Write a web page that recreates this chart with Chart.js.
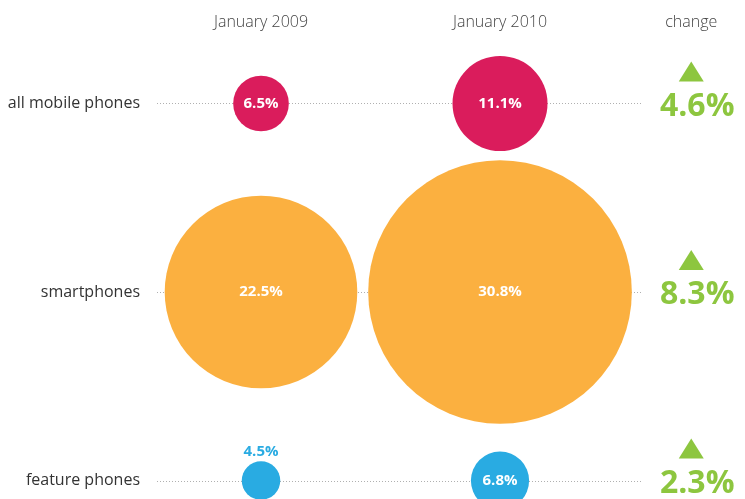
<!DOCTYPE html>
<html>
<head>
<meta charset="utf-8">
<script src="https://cdn.jsdelivr.net/npm/chart.js@4/dist/chart.umd.min.js"></script>
<style>
  html, body { margin: 0; padding: 0; background: #ffffff; }
  #wrap { position: relative; width: 745px; height: 499px; }
</style>
</head>
<body>
<div id="wrap"><canvas id="c"></canvas></div>
<script>
// ---- data ----
const categories = ['all mobile phones', 'smartphones', 'feature phones'];
const periods = ['January 2009', 'January 2010'];
const values2009 = [6.5, 22.5, 4.5];
const values2010 = [11.1, 30.8, 6.8];
const changes = [4.6, 8.3, 2.3];
const changeHeader = 'change';
const bubbleColors = ['#da1c5c', '#fbb040', '#29abe2'];

// ---- style / layout constants ----
const RADIUS_PER_UNIT = 4.28;
const CHANGE_X = 2.8;
const GREEN = '#8dc63f';
const FONT = '"Open Sans", "DejaVu Sans", sans-serif';

function makePoints(vals, xIndex) {
  return vals.map((v, i) => ({ x: xIndex + 1, y: i, r: v * RADIUS_PER_UNIT, v: v }));
}

const decor = {
  id: 'decor',
  beforeDatasetsDraw(chart) {
    const { ctx, scales: { x, y } } = chart;
    ctx.save();
    ctx.strokeStyle = '#b0b0b0';
    ctx.lineWidth = 1;
    ctx.setLineDash([1, 2]);
    categories.forEach((c, i) => {
      const py = Math.round(y.getPixelForValue(i)) + 0.5;
      ctx.beginPath();
      ctx.moveTo(157, py);
      ctx.lineTo(642, py);
      ctx.stroke();
    });
    ctx.restore();
  },
  afterDatasetsDraw(chart) {
    const { ctx, scales: { x, y } } = chart;
    ctx.save();
    // headers
    ctx.fillStyle = '#444';
    ctx.font = '300 16px ' + FONT;
    ctx.textAlign = 'center';
    ctx.textBaseline = 'middle';
    periods.forEach((p, j) => ctx.fillText(p, x.getPixelForValue(j + 1), 22));
    ctx.fillText(changeHeader, x.getPixelForValue(CHANGE_X), 22);
    // row labels
    ctx.fillStyle = '#333';
    ctx.font = '16px ' + FONT;
    ctx.textAlign = 'right';
    categories.forEach((c, i) => ctx.fillText(c, 140, y.getPixelForValue(i)));
    // bubble labels
    chart.data.datasets.forEach((ds, di) => {
      const meta = chart.getDatasetMeta(di);
      meta.data.forEach((el, i) => {
        const d = ds.data[i];
        const txt = d.v.toFixed(1) + '%';
        ctx.textAlign = 'center';
        ctx.font = 'bold 15px ' + FONT;
        if (d.r < 24) {
          ctx.fillStyle = bubbleColors[i];
          ctx.fillText(txt, el.x, el.y - d.r - 10);
        } else {
          ctx.fillStyle = '#ffffff';
          ctx.fillText(txt, el.x, el.y);
        }
      });
    });
    // change column
    const cx = x.getPixelForValue(CHANGE_X);
    changes.forEach((v, i) => {
      const py = y.getPixelForValue(i);
      ctx.fillStyle = GREEN;
      ctx.beginPath();
      ctx.moveTo(cx, py - 42);
      ctx.lineTo(cx + 12.5, py - 22);
      ctx.lineTo(cx - 12.5, py - 22);
      ctx.closePath();
      ctx.fill();
      ctx.font = 'bold 32px ' + FONT;
      ctx.textAlign = 'center';
      ctx.fillText(v.toFixed(1) + '%', cx + 6, py + 3);
    });
    ctx.restore();
  }
};

new Chart(document.getElementById('c'), {
  type: 'bubble',
  data: {
    datasets: [
      { label: periods[0], data: makePoints(values2009, 0), backgroundColor: bubbleColors, borderWidth: 0, hoverBorderWidth: 0, clip: false },
      { label: periods[1], data: makePoints(values2010, 1), backgroundColor: bubbleColors, borderWidth: 0, hoverBorderWidth: 0, clip: false }
    ]
  },
  options: {
    responsive: true,
    maintainAspectRatio: false,
    animation: false,
    events: [],
    layout: { autoPadding: false, padding: 0 },
    plugins: { legend: { display: false }, tooltip: { enabled: false } },
    scales: {
      x: { type: 'linear', display: false, min: -0.092, max: 3.025 },
      y: { type: 'linear', display: false, reverse: true, min: -0.549, max: 2.098 }
    }
  },
  plugins: [decor]
});
</script>
</body>
</html>
